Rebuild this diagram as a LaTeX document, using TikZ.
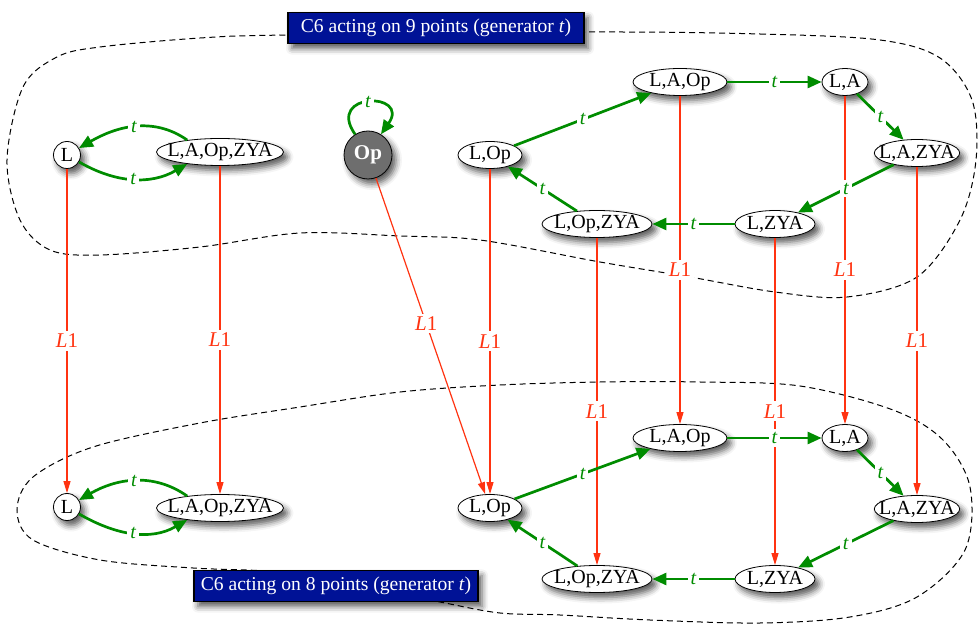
\documentclass[tikz,border=0pt]{standalone}
\usepackage{fontspec}
\setmainfont{Liberation Serif}
\usetikzlibrary{arrows.meta,shapes.geometric,shadows.blur}
\definecolor{gengreen}{RGB}{0,140,0}
\definecolor{liftred}{RGB}{255,51,17}
\definecolor{bannerblue}{RGB}{0,18,150}
\definecolor{opgray}{RGB}{110,110,110}
\tikzset{
  soft/.style={blur shadow={shadow xshift=2pt,shadow yshift=-2.5pt,
    shadow blur radius=3pt,shadow opacity=65}},
}
\begin{document}
\begin{tikzpicture}[x=0.5pt,y=-0.5pt,
    state/.style={ellipse,draw,fill=white,inner xsep=-3.8pt,inner ysep=0pt,
      minimum height=13.5pt,font=\fontsize{10}{11}\selectfont,soft},
    dot/.style={state,circle,inner sep=0pt,minimum size=13.5pt},
    fixed/.style={circle,draw,fill=opgray,inner sep=0pt,minimum size=24pt,
      text=white,font=\bfseries\fontsize{10.5}{12}\selectfont,soft},
    gen/.style={draw=gengreen,line width=1.35pt,-{Triangle[length=7pt,width=6pt]}},
    tlab/.style={fill=white,inner sep=1.5pt,text=gengreen,
      font=\itshape\fontsize{10}{11}\selectfont},
    lift/.style={draw=liftred,line width=0.6pt,-{Triangle[length=6pt,width=3.5pt]}},
    llab/.style={fill=white,inner sep=1.5pt,pos=0.53,text=liftred,
      font=\fontsize{10.5}{12}\selectfont},
    banner/.style={draw,line width=0.8pt,fill=bannerblue,text=white,
      minimum height=14.5pt,font=\fontsize{9.8}{11}\selectfont,soft},
    region/.style={line width=0.5pt,dash pattern=on 3pt off 2pt}]
  \useasboundingbox (0,0) rectangle (980,625);

  % the two orbits
  \draw[region] plot[smooth cycle,tension=0.55] coordinates {
    (590,32) (760,34) (880,40) (940,58) (972,100) (976,160) (960,220)
    (917,277) (847,297) (775,292) (690,277) (600,262) (480,240) (400,236)
    (300,233) (200,247) (100,255) (50,250) (20,220) (7,160) (23,87)
    (57,57) (100,47) (200,38) (288,35)};
  \draw[region] plot[smooth cycle,tension=0.55] coordinates {
    (300,407) (400,392) (500,385) (600,382) (700,382) (800,386) (893,410)
    (943,440) (970,487) (965,550) (917,597) (850,617) (760,623) (650,620)
    (560,615) (500,613) (440,602) (360,586) (277,572) (193,568) (100,560)
    (33,540) (17,510) (33,477) (93,447) (200,423)};

  % 9 points
  \node[dot] (L9) at (67,155) {L};
  \node[state] (LAOpZYA9) at (220,152) {L,A,Op,ZYA};
  \node[fixed] (Op9) at (368,155) {Op};
  \node[state,minimum width=32pt] (LOp9) at (490,155) {L,Op};
  \node[state,minimum width=47pt] (LAOp9) at (680,82) {L,A,Op};
  \node[state,minimum width=23pt] (LA9) at (845,82) {L,A};
  \node[state] (LAZYA9) at (917,153) {L,A,ZYA};
  \node[state,minimum width=40pt] (LZYA9) at (775,224) {L,ZYA};
  \node[state,minimum width=55pt] (LOpZYA9) at (597,224) {L,Op,ZYA};

  % 8 points
  \node[dot] (L8) at (67,507) {L};
  \node[state] (LAOpZYA8) at (220,508) {L,A,Op,ZYA};
  \node[state,minimum width=32pt] (LOp8) at (490,508) {L,Op};
  \node[state,minimum width=47pt] (LAOp8) at (680,438) {L,A,Op};
  \node[state,minimum width=23pt] (LA8) at (845,438) {L,A};
  \node[state] (LAZYA8) at (917,509) {L,A,ZYA};
  \node[state,minimum width=40pt] (LZYA8) at (775,579) {L,ZYA};
  \node[state,minimum width=55pt] (LOpZYA8) at (597,579) {L,Op,ZYA};

  % the map L1
  \draw[lift] (L9) -- node[llab] {\textit{L}1} (L8);
  \draw[lift] (LAOpZYA9) -- node[llab] {\textit{L}1} (LAOpZYA8);
  \draw[lift] (Op9) -- node[llab,pos=0.46] {\textit{L}1} (LOp8);
  \draw[lift] (LOp9) -- node[llab] {\textit{L}1} (LOp8);
  \draw[lift] (LAOp9) -- node[llab] {\textit{L}1} (LAOp8);
  \draw[lift] (LA9) -- node[llab] {\textit{L}1} (LA8);
  \draw[lift] (LAZYA9) -- node[llab] {\textit{L}1} (LAZYA8);
  \draw[lift] (LOpZYA9) -- node[llab] {\textit{L}1} (LOpZYA8);
  \draw[lift] (LZYA9) -- node[llab] {\textit{L}1} (LZYA8);

  % generator t, upper
  \draw[gen] (LAOpZYA9.160) to[out=145,in=30] node[tlab] {t} (L9);
  \draw[gen] (L9) to[out=-30,in=-150] node[tlab] {t} (LAOpZYA9.200);
  \draw[gen] (Op9.122) to[out=125,in=55,distance=26pt] node[tlab] {t} (Op9.58);
  \draw[gen] (LOp9) -- node[tlab] {t} (LAOp9);
  \draw[gen] (LAOp9) -- node[tlab] {t} (LA9);
  \draw[gen] (LA9) -- node[tlab] {t} (LAZYA9);
  \draw[gen] (LAZYA9) -- node[tlab] {t} (LZYA9);
  \draw[gen] (LZYA9) -- node[tlab] {t} (LOpZYA9);
  \draw[gen] (LOpZYA9) -- node[tlab] {t} (LOp9);

  % generator t, lower
  \draw[gen] (LAOpZYA8.160) to[out=145,in=30] node[tlab] {t} (L8);
  \draw[gen] (L8) to[out=-30,in=-150] node[tlab] {t} (LAOpZYA8.200);
  \draw[gen] (LOp8) -- node[tlab] {t} (LAOp8);
  \draw[gen] (LAOp8) -- node[tlab] {t} (LA8);
  \draw[gen] (LA8) -- node[tlab] {t} (LAZYA8);
  \draw[gen] (LAZYA8) -- node[tlab] {t} (LZYA8);
  \draw[gen] (LZYA8) -- node[tlab] {t} (LOpZYA8);
  \draw[gen] (LOpZYA8) -- node[tlab] {t} (LOp8);

  \node[banner,minimum width=148pt] (nine) at (436,28)
    {C6 acting on 9 points (generator \textit{t})};
  \node[banner,minimum width=142pt] (eight) at (336,586)
    {C6 acting on 8 points (generator \textit{t})};
\end{tikzpicture}
\end{document}
